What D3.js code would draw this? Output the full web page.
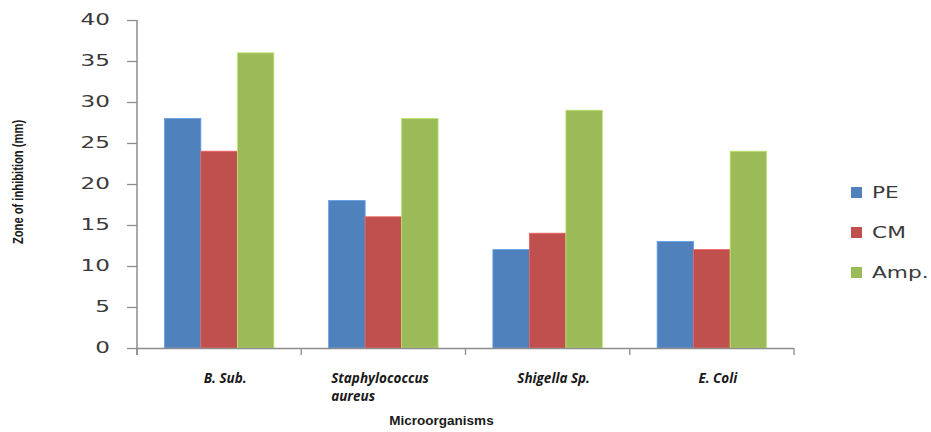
<!DOCTYPE html>
<html>
<head>
<meta charset="utf-8">
<script src="https://cdn.jsdelivr.net/npm/d3@7/dist/d3.min.js"></script>
<style>
  html, body { margin: 0; padding: 0; background: #fff; }
  svg { display: block; }
</style>
</head>
<body>
<svg id="chart" width="931" height="432"></svg>
<script>
// Zone of inhibition (mm) by microorganism and treatment
const categories = ["B. Sub.", "Staphylococcus aureus", "Shigella Sp.", "E. Coli"];
const categoryLines = [["B. Sub."], ["Staphylococcus", "aureus"], ["Shigella Sp."], ["E. Coli"]];
const seriesNames = ["PE", "CM", "Amp."];
const peValues = [28, 18, 12, 13];
const cmValues = [24, 16, 14, 12];
const ampValues = [36, 28, 29, 24];
const yTicks = [0, 5, 10, 15, 20, 25, 30, 35, 40];
const colors = ["#4F81BD", "#C0504D", "#9BBB59"];

const seriesValues = [peValues, cmValues, ampValues];

const svg = d3.select("#chart");
const plotLeft = 137, plotRight = 794, plotTop = 20, plotBottom = 348;

const x0 = d3.scaleBand()
  .domain(categories)
  .range([plotLeft, plotRight])
  .paddingInner(1 / 3)
  .paddingOuter(1 / 6);

const x1 = d3.scaleBand()
  .domain(seriesNames)
  .range([0, x0.bandwidth()])
  .padding(0);

const y = d3.scaleLinear().domain([0, 40]).range([plotBottom, plotTop]);

const color = d3.scaleOrdinal().domain(seriesNames).range(colors);

const axisColor = "#8c8c8c";
const textStretch = 1.4;

// Bars
const groups = svg.append("g")
  .selectAll("g")
  .data(categories)
  .join("g")
  .attr("transform", d => `translate(${x0(d)},0)`);

groups.selectAll("rect")
  .data((d, i) => seriesNames.map((s, j) => ({ series: s, value: seriesValues[j][i] })))
  .join("rect")
  .attr("x", d => x1(d.series))
  .attr("y", d => y(d.value))
  .attr("width", x1.bandwidth())
  .attr("height", d => y(0) - y(d.value))
  .attr("fill", d => color(d.series))
  .attr("stroke", d => d3.color(color(d.series)).brighter(0.6))
  .attr("stroke-width", 0.8);

// Y axis
const yAxis = svg.append("g")
  .attr("transform", `translate(${plotLeft},0)`)
  .call(d3.axisLeft(y).tickValues(yTicks).tickSize(10).tickPadding(0).tickFormat(d3.format("d")));
yAxis.select(".domain").attr("stroke", axisColor).attr("stroke-width", 1.5)
  .attr("d", `M0,${plotTop}V${plotBottom + 7}`);
yAxis.selectAll(".tick line").attr("stroke", axisColor).attr("stroke-width", 1.3);
yAxis.selectAll(".tick text").each(function () {
  d3.select(this)
    .attr("x", null).attr("dy", null)
    .attr("transform", `translate(-27,0) scale(${textStretch},1)`)
    .attr("dominant-baseline", "middle")
    .attr("text-anchor", "end")
    .attr("font-family", "'DejaVu Sans', sans-serif")
    .attr("font-size", 16.5)
    .attr("fill", "#3a3a3a");
});

// X axis with category separators
const xAxis = svg.append("g").attr("transform", `translate(0,${plotBottom})`);
xAxis.append("line")
  .attr("x1", plotLeft).attr("x2", plotRight)
  .attr("y1", 0.5).attr("y2", 0.5)
  .attr("stroke", axisColor).attr("stroke-width", 1.5);
const separators = categories.map(c => x0(c) - x0.step() * x0.paddingOuter())
  .concat([plotRight]);
xAxis.selectAll("line.sep")
  .data(separators)
  .join("line")
  .attr("class", "sep")
  .attr("x1", d => d).attr("x2", d => d)
  .attr("y1", 0).attr("y2", 7)
  .attr("stroke", axisColor).attr("stroke-width", 1.3);

// Category labels
const labels = svg.append("g")
  .selectAll("text")
  .data(categories)
  .join("text")
  .attr("font-family", "'Open Sans', sans-serif")
  .attr("font-weight", "bold")
  .attr("font-style", "italic")
  .attr("font-size", 13.5)
  .attr("fill", "#1a1a1a")
  .attr("y", 383);
labels.each(function (d, i) {
  const t = d3.select(this);
  const lines = categoryLines[i];
  const cx = x0(d) + x0.bandwidth() / 2;
  if (lines.length === 1) {
    t.attr("x", cx + 6).attr("text-anchor", "middle").text(lines[0]);
  } else {
    t.attr("text-anchor", "start");
    lines.forEach((ln, k) => {
      t.append("tspan").attr("x", 0).attr("dy", k === 0 ? 0 : 18).text(ln);
    });
    const w = t.node().getBBox().width;
    t.selectAll("tspan").attr("x", cx - w / 2 - 3);
  }
});

// Axis titles
svg.append("text")
  .attr("x", (plotLeft + plotRight) / 2 - 24)
  .attr("y", 425)
  .attr("text-anchor", "middle")
  .attr("font-family", "'Liberation Sans', Arial, sans-serif")
  .attr("font-weight", "bold")
  .attr("font-size", 13.5)
  .attr("fill", "#1a1a1a")
  .text("Microorganisms");

svg.append("text")
  .attr("transform", "translate(23,182) rotate(-90) scale(0.8,1)")
  .attr("text-anchor", "middle")
  .attr("font-family", "'Liberation Sans', Arial, sans-serif")
  .attr("font-weight", "bold")
  .attr("font-size", 14)
  .attr("fill", "#1a1a1a")
  .text("Zone of inhibition (mm)");

// Legend
const legend = svg.append("g")
  .selectAll("g")
  .data(seriesNames)
  .join("g")
  .attr("transform", (d, i) => `translate(851,${187 + i * 40})`);
legend.append("rect")
  .attr("width", 11).attr("height", 11)
  .attr("fill", d => color(d));
legend.append("text")
  .attr("transform", `translate(21,11) scale(${textStretch},1)`)
  .attr("font-family", "'DejaVu Sans', sans-serif")
  .attr("font-size", 15.5)
  .attr("fill", "#3a3a3a")
  .text(d => d);
</script>
</body>
</html>
